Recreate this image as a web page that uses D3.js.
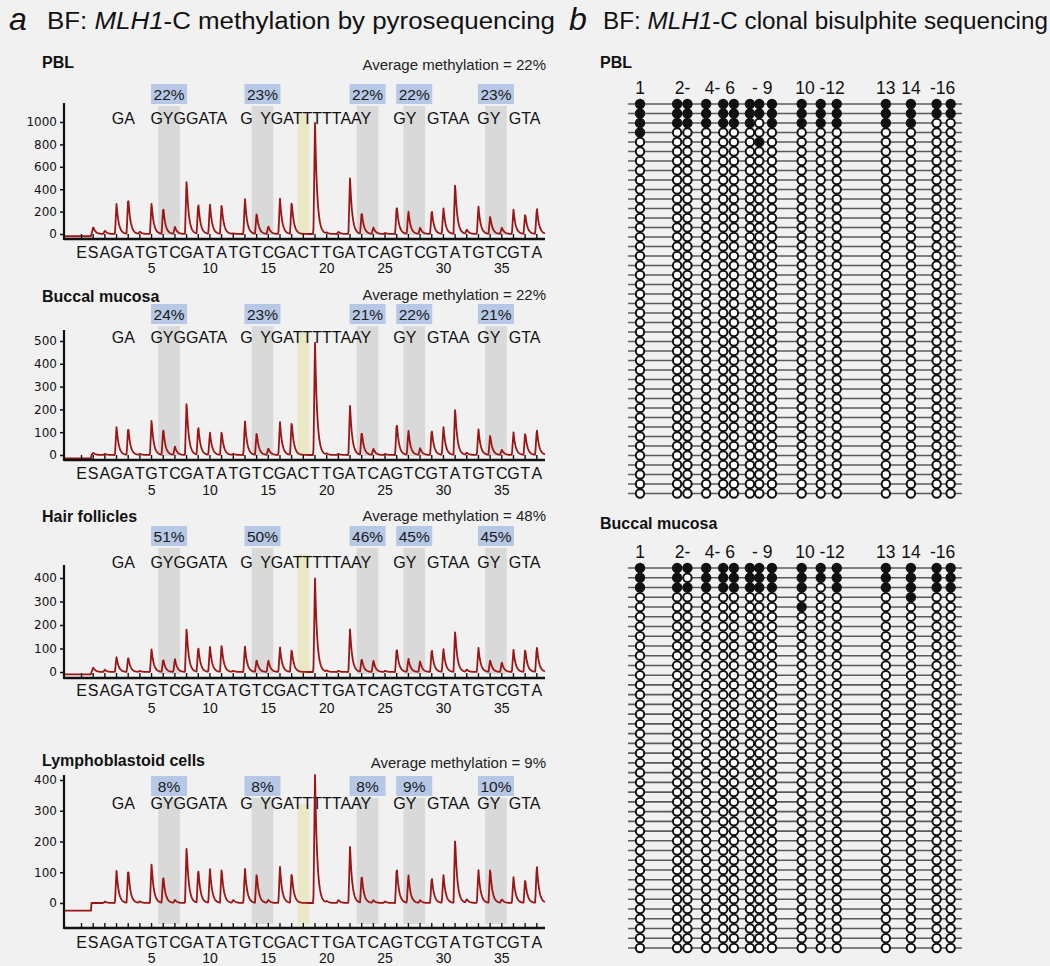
<!DOCTYPE html>
<html><head><meta charset="utf-8">
<script src="https://cdn.jsdelivr.net/npm/d3@7"></script>
<style>
body{margin:0;background:#f1f1f1;}
svg{display:block;font-family:"Liberation Sans",Arial,sans-serif;}
</style>
</head><body>
<svg id="chart" width="1050" height="966"></svg>
<script>
// ---------------- DATA ----------------
const dispensationOrder = "ESAGATGTCGATATGTCGACTTGATCAGTCGTATGTCGTA".split("");
const dispensationPos = dispensationOrder.map((d, i) => i - 1); // E=-1, S=0, 1..38
const positionTicks = [5, 10, 15, 20, 25, 30, 35];
const panelNames = ["PBL", "Buccal mucosa", "Hair follicles", "Lymphoblastoid cells"];
const averageMethylation = [22, 22, 48, 9];
const cpgPairs = [[6, 7], [14, 15], [23, 24], [27, 28], [34, 35]];
const controlPos = 18;
const pblPct = [22, 23, 22, 22, 23];
const buccalPct = [24, 23, 21, 22, 21];
const hairPct = [51, 50, 46, 45, 45];
const lymphoPct = [8, 8, 8, 9, 10];
// peak heights for E, S, 1..38
const pblPeaks = [0, 65, 30, 274, 333, 20, 280, 244, 65, 488, 283, 268, 268, 5, 318, 190, 71, 318, 298, 0, 997, 10, 20, 506, 200, 60, 10, 260, 208, 57, 220, 235, 461, 40, 250, 164, 60, 220, 185, 238];
const buccalPeaks = [0, 10, 5, 125, 125, 5, 155, 120, 38, 235, 130, 100, 105, 5, 150, 100, 30, 145, 150, 0, 495, 5, 5, 220, 105, 28, 5, 145, 110, 31, 115, 125, 210, 10, 115, 90, 24, 100, 100, 115];
const hairPeaks = [0, 20, 10, 65, 65, 5, 100, 55, 57, 190, 110, 110, 118, 5, 110, 52, 52, 105, 100, 0, 400, 5, 5, 185, 58, 50, 5, 105, 58, 47, 100, 100, 180, 10, 105, 52, 43, 95, 100, 110];
const lymphoPeaks = [0, 0, 5, 107, 113, 5, 130, 90, 10, 186, 113, 113, 113, 10, 113, 98, 10, 118, 101, 0, 420, 5, 10, 186, 93, 9, 5, 120, 93, 9, 87, 93, 214, 12, 109, 115, 12, 85, 79, 126];
const startBaseline = [-20, -15, -10, -25];
const pblYTicks = [0, 200, 400, 600, 800, 1000];
const buccalYTicks = [0, 100, 200, 300, 400, 500];
const hairYTicks = [0, 100, 200, 300, 400];
const lymphoYTicks = [0, 100, 200, 300, 400];
const seqSegments = [["GA", 1.6], ["GYGGATA", 4.9], ["G", 12.6], ["YGATTTTTAAY", 14.3], ["GY", 25.7], ["GTAA", 28.6], ["GY", 32.9], ["GTA", 35.6]];

// clonal bisulphite sequencing
const cpgSiteBp = [3.6, 14.7, 17.8, 23.4, 28.5, 31.7, 36.5, 39.3, 43.1, 52, 57.7, 62.5, 77.2, 84.7, 92.4, 96.6];
const cpgHeader = [["1", 3.6], ["2-", 16.3], ["4-", 25.3], ["6", 30.6], ["- 9", 40.2], ["10 -12", 57.5], ["13", 77.2], ["14", 84.7], ["-16", 94.2]];
const pblCloneCount = 42;
const pblMethylatedClones = [
  [1,1,1,1,1,1,1,1,1,1,1,1,1,1,1,1],
  [1,1,1,1,1,1,1,1,1,1,1,1,1,1,1,1],
  [1,1,1,1,1,1,1,0,1,1,1,1,1,1,0,0],
  [1,0,0,0,0,0,0,0,0,0,0,0,0,0,0,0],
  [0,0,0,0,0,0,0,1,0,0,0,0,0,0,0,0]
];
const buccalCloneCount = 40;
const buccalMethylatedClones = [
  [1,1,1,1,1,1,1,1,1,1,1,1,1,1,1,1],
  [1,1,0,1,1,1,1,1,1,1,1,1,1,1,1,1],
  [1,1,1,1,1,1,1,1,1,1,0,1,1,1,1,1],
  [0,0,0,0,0,0,0,0,0,0,0,0,0,1,0,0],
  [0,0,0,0,0,0,0,0,0,1,0,0,0,0,0,0]
];

// ---------------- LAYOUT ----------------
const svg = d3.select("#chart");
svg.append("rect").attr("width", 1050).attr("height", 966).attr("fill", "#f1f1f1");

const panels = [
  {pct: pblPct, peaks: pblPeaks, ticks: pblYTicks, dom: [0, 1000], rng: [234, 122], labelY: 68, avgY: 70, boxTop: 84, seqY: 124, topY: 103, axisY: 239, letY: 258, numY: 273},
  {pct: buccalPct, peaks: buccalPeaks, ticks: buccalYTicks, dom: [0, 500], rng: [455, 341], labelY: 302, avgY: 300, boxTop: 304, seqY: 343, topY: 330, axisY: 460, letY: 479, numY: 495},
  {pct: hairPct, peaks: hairPeaks, ticks: hairYTicks, dom: [0, 400], rng: [672, 578], labelY: 522, avgY: 521, boxTop: 526, seqY: 568, topY: 565, axisY: 678, letY: 696, numY: 713},
  {pct: lymphoPct, peaks: lymphoPeaks, ticks: lymphoYTicks, dom: [0, 400], rng: [903, 780], labelY: 766, avgY: 768, boxTop: 776, seqY: 809, topY: 775, axisY: 928, letY: 948, numY: 963}
];

// Titles
function title(letter, xl, xt, y, len, rest) {
  svg.append("text").attr("x", xl).attr("y", y).attr("font-size", 32).attr("font-style", "italic").attr("fill", "#111").text(letter);
  const t = svg.append("text").attr("x", xt).attr("y", y - 1).attr("font-size", 23).attr("fill", "#111")
    .attr("textLength", len).attr("lengthAdjust", "spacingAndGlyphs");
  t.append("tspan").text("BF: ");
  t.append("tspan").attr("font-style", "italic").text("MLH1");
  t.append("tspan").text(rest);
}
title("a", 9, 47, 30, 508, "-C methylation by pyrosequencing");
title("b", 569, 603, 30, 445, "-C clonal bisulphite sequencing");

const x = d3.scaleLinear().domain([-2.5, 38.7]).range([64, 545]);

function shape(dx) {
  if (dx < -1.6) return 0;
  if (dx < 0) return 1 + dx / 1.6;
  return Math.exp(-dx / 2.2);
}

panels.forEach((p, pi) => {
  const g = svg.append("g");
  const y = d3.scaleLinear().domain(p.dom).range(p.rng);
  const bandTop = p.boxTop + 22;
  const bandBottom = p.axisY - 4;

  // label and average
  g.append("text").attr("x", 42).attr("y", p.labelY).attr("font-size", 16).attr("font-weight", "bold").attr("fill", "#111").text(panelNames[pi]);
  g.append("text").attr("x", 546).attr("y", p.avgY).attr("text-anchor", "end").attr("font-size", 15).attr("fill", "#222")
    .text("Average methylation = " + averageMethylation[pi] + "%");

  // grey bands and percent boxes
  cpgPairs.forEach((cp, i) => {
    const x0 = x(cp[0]) - 5, x1 = x(cp[1]) + 5;
    g.append("rect").attr("x", x0).attr("y", bandTop).attr("width", x1 - x0).attr("height", bandBottom - bandTop).attr("fill", "#d9d9d9");
    const cx = (x0 + x1) / 2;
    g.append("rect").attr("x", cx - 18).attr("y", p.boxTop).attr("width", 36).attr("height", 20).attr("fill", "#b6c8e6");
    g.append("text").attr("x", cx).attr("y", p.boxTop + 16).attr("text-anchor", "middle").attr("font-size", 15.5).attr("fill", "#1a1a1a").text(p.pct[i] + "%");
  });
  g.append("rect").attr("x", x(controlPos) - 6).attr("y", bandTop + 6).attr("width", 12).attr("height", bandBottom - bandTop - 6).attr("fill", "#e9e7c4");

  // sequence to analyse
  seqSegments.forEach(s => {
    g.append("text").attr("x", x(s[1])).attr("y", p.seqY).attr("font-size", 16).attr("fill", "#111").text(s[0]);
  });

  // trace
  const base = startBaseline[pi];
  const pts = [];
  for (let px = x.range()[0]; px <= x.range()[1]; px += 0.5) {
    let v = px < x(0) - 2 ? base : 0;
    p.peaks.forEach((h, k) => { v += h * shape(px - x(dispensationPos[k])); });
    pts.push([px, v]);
  }
  const yMin = y.invert(p.topY);
  g.append("path").datum(pts)
    .attr("d", d3.line().x(d => d[0]).y(d => y(Math.min(d[1], yMin))))
    .attr("fill", "none").attr("stroke", "#9c1515").attr("stroke-width", 1.8).attr("stroke-linejoin", "round");

  // y axis
  const ya = g.append("g").attr("transform", `translate(${x.range()[0]},0)`)
    .call(d3.axisLeft(y).tickValues(p.ticks).tickFormat(d3.format("d")).tickSizeInner(4).tickSizeOuter(0).tickPadding(3));
  ya.select(".domain").remove();
  ya.selectAll("text").attr("font-family", "DejaVu Sans, Verdana, sans-serif").attr("font-size", 12).attr("fill", "#111");
  ya.selectAll("line").attr("stroke", "#111").attr("stroke-width", 1.5);
  g.append("line").attr("x1", x.range()[0]).attr("x2", x.range()[0]).attr("y1", p.topY).attr("y2", p.axisY + 1)
    .attr("stroke", "#111").attr("stroke-width", 2.2);

  // x axis
  g.append("line").attr("x1", x.range()[0]).attr("x2", x.range()[1]).attr("y1", p.axisY).attr("y2", p.axisY)
    .attr("stroke", "#111").attr("stroke-width", 2.4);
  g.selectAll(".xt").data(dispensationPos).enter().append("line")
    .attr("x1", d => x(d)).attr("x2", d => x(d)).attr("y1", p.axisY).attr("y2", p.axisY - 5)
    .attr("stroke", "#111").attr("stroke-width", 1.4);
  g.selectAll(".xl").data(dispensationOrder).enter().append("text")
    .attr("x", (d, i) => x(dispensationPos[i])).attr("y", p.letY).attr("text-anchor", "middle")
    .attr("font-size", 16).attr("fill", "#111").text(d => d);
  g.selectAll(".xn").data(positionTicks).enter().append("text")
    .attr("x", d => x(d)).attr("y", p.numY).attr("text-anchor", "middle")
    .attr("font-size", 14).attr("fill", "#111").text(d => d);
});

// ---------------- PANEL b ----------------
const bx = d3.scaleLinear().domain([0, 100]).range([628, 962]);
const clonePanels = [
  {name: "PBL", count: pblCloneCount, meth: pblMethylatedClones, labelY: 68, headY: 94, rows: [104, 493.5]},
  {name: "Buccal mucosa", count: buccalCloneCount, meth: buccalMethylatedClones, labelY: 529, headY: 558, rows: [568, 948]}
];
clonePanels.forEach(cp => {
  const g = svg.append("g");
  g.append("text").attr("x", 600).attr("y", cp.labelY).attr("font-size", 16).attr("font-weight", "bold").attr("fill", "#111").text(cp.name);
  cpgHeader.forEach(h => {
    g.append("text").attr("x", bx(h[1])).attr("y", cp.headY).attr("text-anchor", "middle").attr("font-size", 17.5).attr("fill", "#111").text(h[0]);
  });
  const rowIdx = d3.range(cp.count);
  const ry = d3.scalePoint().domain(rowIdx).range(cp.rows);
  rowIdx.forEach(r => {
    const state = cp.meth[r] || cpgSiteBp.map(() => 0);
    g.append("line").attr("x1", bx(0)).attr("x2", bx(100)).attr("y1", ry(r)).attr("y2", ry(r))
      .attr("stroke", "#5a5a5a").attr("stroke-width", 1.6);
    g.selectAll(null).data(cpgSiteBp).enter().append("circle")
      .attr("cx", d => bx(d)).attr("cy", ry(r)).attr("r", 4.2)
      .attr("fill", (d, i) => state[i] ? "#111" : "#fff")
      .attr("stroke", "#111").attr("stroke-width", 2);
  });
});
</script>
</body></html>
